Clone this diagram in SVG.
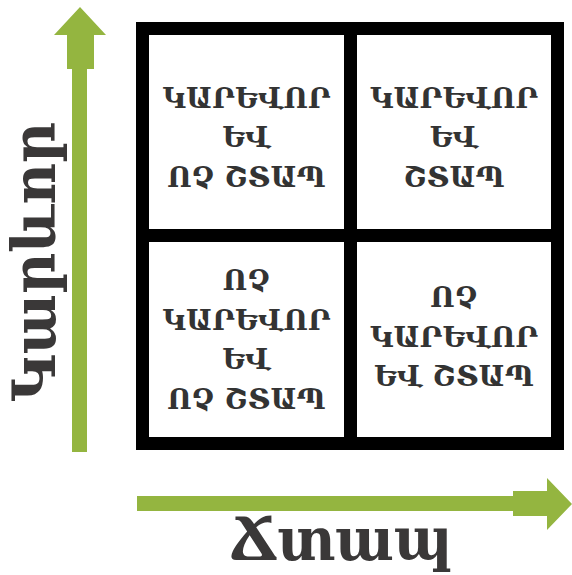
<svg xmlns="http://www.w3.org/2000/svg" width="572" height="575" viewBox="0 0 572 575">
  <style>
    .axis { fill: #94b540; }
    .frame { fill: none; stroke: #000; stroke-width: 13; }
    .cell { font-family: "DejaVu Serif", "Noto Serif", serif; font-weight: bold; font-size: 28px; fill: #333333; text-anchor: middle; }
    .label { font-family: "DejaVu Serif", "Noto Serif", serif; font-weight: bold; font-size: 60px; fill: #3a3838; }
  </style>
  <rect width="572" height="575" fill="#fff"/>

  <!-- axes -->
  <g id="connectors">
    <path id="axis-y" class="axis" d="M72,452 V69 H67 V35 H54 L80,7 L106,35 H94 V69 H87 V452 Z"/>
    <path id="axis-x" class="axis" d="M137,496 H513 V491 H547 V478 L572,504 L547,530 V516 H513 V511 H137 Z"/>
  </g>

  <!-- matrix frame -->
  <g id="grid">
    <rect class="frame" x="142.5" y="28.5" width="415" height="415"/>
    <line class="frame" x1="350.5" y1="28.5" x2="350.5" y2="443.5"/>
    <line class="frame" x1="142.5" y1="235.5" x2="557.5" y2="235.5"/>
  </g>

  <g id="q-top-left">
    <text class="cell" x="246.5" y="108">ԿԱՐԵՎՈՐ</text>
    <text class="cell" x="246.5" y="147">ԵՎ</text>
    <text class="cell" x="246.5" y="187">ՈՉ ՇՏԱՊ</text>
  </g>
  <g id="q-top-right">
    <text class="cell" x="454" y="108">ԿԱՐԵՎՈՐ</text>
    <text class="cell" x="454" y="147">ԵՎ</text>
    <text class="cell" x="454" y="187">ՇՏԱՊ</text>
  </g>
  <g id="q-bottom-left">
    <text class="cell" x="246.5" y="290">ՈՉ</text>
    <text class="cell" x="246.5" y="330">ԿԱՐԵՎՈՐ</text>
    <text class="cell" x="246.5" y="369">ԵՎ</text>
    <text class="cell" x="246.5" y="409">ՈՉ ՇՏԱՊ</text>
  </g>
  <g id="q-bottom-right">
    <text class="cell" x="454" y="307">ՈՉ</text>
    <text class="cell" x="454" y="347">ԿԱՐԵՎՈՐ</text>
    <text class="cell" x="454" y="386">ԵՎ ՇՏԱՊ</text>
  </g>

  <g id="label-y">
    <text class="label" transform="translate(55,402) rotate(-90)" textLength="280" lengthAdjust="spacingAndGlyphs">Կարևոր</text>
  </g>
  <g id="label-x">
    <text class="label" x="230" y="560" textLength="223" lengthAdjust="spacingAndGlyphs">Ճտապ</text>
  </g>
</svg>
